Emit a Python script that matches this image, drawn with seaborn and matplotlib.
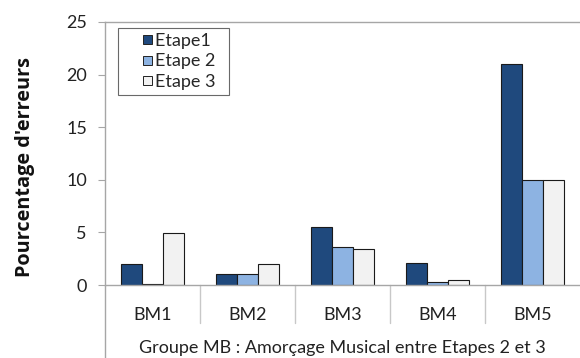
import pandas as pd
import matplotlib.pyplot as plt
import matplotlib.transforms as mtrans
from matplotlib.patches import Patch, Rectangle
from matplotlib.legend_handler import HandlerPatch
import seaborn as sns

categories = ["BM1", "BM2", "BM3", "BM4", "BM5"]
etape1 = [2.0, 1.0, 5.5, 2.1, 21.0]
etape2 = [0.1, 1.0, 3.65, 0.3, 10.0]
etape3 = [4.95, 2.0, 3.4, 0.45, 10.0]
series = ["Etape1", "Etape 2", "Etape 3"]
colors = ["#1F497D", "#8DB3E2", "#F2F2F2"]

df = pd.DataFrame({
    "cat": categories * 3,
    "val": etape1 + etape2 + etape3,
    "serie": [s for s in series for _ in categories],
})

sns.set_style("white")
plt.rcParams["font.family"] = ["Lato", "DejaVu Sans"]
grey = "#A6A6A6"
txt = "#222222"

fig = plt.figure(figsize=(5.8, 3.58), dpi=100)
ax = fig.add_axes([105 / 580, 73 / 358, 475 / 580, 263 / 358])
sns.barplot(data=df, x="cat", y="val", hue="serie", hue_order=series,
            palette=colors, width=0.67, edgecolor="#1a1a1a", linewidth=0.8,
            saturation=1, ax=ax, legend=False)

ax.set_ylim(0, 25)
ax.set_xlim(-0.5, 4.5)
ax.set_yticks([0, 5, 10, 15, 20, 25])
ax.tick_params(axis="y", direction="out", length=5, width=0.8, color=grey,
               pad=8, labelsize=13, labelcolor=txt, left=True)
ax.tick_params(axis="x", length=0, pad=16, labelsize=13, labelcolor=txt)

for side in ["left", "top", "bottom"]:
    ax.spines[side].set_color(grey)
    ax.spines[side].set_linewidth(1.0)
ax.spines["right"].set_visible(False)

# left axis line continues below the plot, and category separators
ax.plot([0, 0], [0, -73 / 263], transform=ax.transAxes, color=grey,
        lw=1.0, clip_on=False)
tr = mtrans.blended_transform_factory(ax.transData, ax.transAxes)
for x in [0.5, 1.5, 2.5, 3.5]:
    ax.plot([x, x], [0, -38 / 263], transform=tr, color="#C8C8C8",
            lw=1.0, clip_on=False)

ax.set_ylabel("Pourcentage d'erreurs", fontsize=14.3, fontweight="bold",
              family=["Open Sans", "DejaVu Sans"], color="#111111")
ax.yaxis.set_label_coords(-70 / 475, 0.45)
ax.set_xlabel("Groupe MB : Amorçage Musical entre Etapes 2 et 3",
              fontsize=13, labelpad=12, color=txt)


# small square sitting at the right end of a wide handle box
def small_square(legend, orig_handle, xdescent, ydescent, width, height, fontsize):
    s = 6.5
    return Rectangle((-xdescent + width - s, -ydescent + (height - s) / 2), s, s)


handles = [Patch(facecolor=c, edgecolor="#222222", linewidth=0.7) for c in colors]
leg = ax.legend(handles, [s + "  " for s in series], loc="upper left",
                bbox_to_anchor=(13 / 475, 1 - 6 / 263), fontsize=13,
                frameon=True, fancybox=False, edgecolor="#444444",
                handler_map={Patch: HandlerPatch(patch_func=small_square)},
                handlelength=1.63, handletextpad=0.17,
                borderpad=0.25, labelspacing=0.27, borderaxespad=0)
leg.get_frame().set_linewidth(0.8)

fig.savefig("out.png", dpi=100)
